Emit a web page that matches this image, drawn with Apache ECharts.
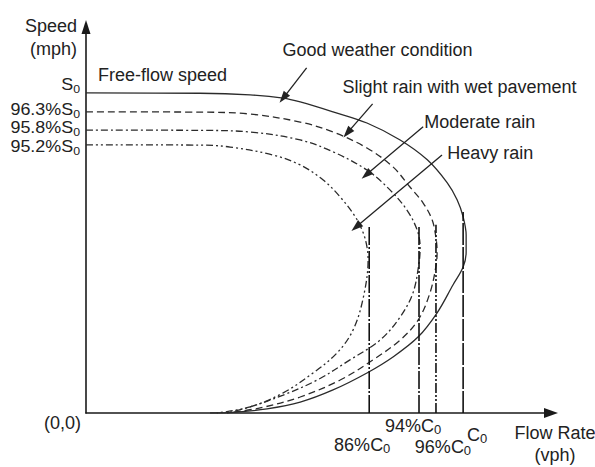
<!DOCTYPE html>
<html lang="en">
<head>
<meta charset="UTF-8">
<title>Speed-flow curves under rain</title>
<script src="https://cdn.jsdelivr.net/npm/echarts@6/dist/echarts.min.js"></script>
<style>html,body{margin:0;padding:0;background:#fff;}</style>
</head>
<body>
<div id="main" style="width:595px;height:467px;"></div>
<script>
// x: flow in % of C0, y: speed in % of S0 (as drawn in the sketch, not as labelled)
var goodWeather = [[0,100],[30.2,99.9],[43.5,99.4],[52.3,98.4],[56.8,97.2],[65.5,94.1],[74.5,90.6],[83.3,85.3],[90.5,79.1],[95.8,71.9],[98.4,66.6],[100,61.3],[100.8,55.6],[100.8,50.3],[100,45.6],[97.3,40.0],[93.1,31.3],[88.1,23.8],[81.4,17.5],[74.5,12.5],[65.5,7.2],[56.8,3.4],[48.0,1.3],[39.0,0.2],[32.9,0]];
var slightRain = [[0,94.1],[30.2,94.0],[43.5,93.4],[56.8,90.9],[65.5,87.8],[74.5,82.8],[81.4,76.9],[85.9,70.6],[89.4,65.6],[91.8,60.3],[92.8,54.7],[93.1,50.3],[92.8,45.9],[91.2,37.5],[88.1,29.1],[83.3,22.8],[76.1,16.6],[67.4,10.3],[56.8,5.0],[46.2,1.6],[37.4,0]];
var moderateRain = [[0,88.4],[30.2,88.3],[43.5,87.8],[56.8,85.3],[65.5,81.6],[74.5,75.9],[80.6,69.7],[85.1,63.4],[87.8,57.2],[88.6,51.9],[88.3,46.9],[86.7,37.5],[83.3,30.0],[78.0,22.8],[70.0,16.6],[61.3,10.3],[52.3,5.6],[43.5,1.9],[37.4,0]];
var heavyRain = [[0,83.8],[30.2,83.7],[38.2,83.1],[49.6,80.6],[56.8,77.5],[62.9,72.8],[67.4,67.5],[71.4,61.3],[73.5,56.3],[74.5,51.9],[74.8,47.8],[73.5,35.9],[70.8,25.9],[66.6,18.8],[60.2,12.5],[52.3,6.3],[43.5,1.9],[34.7,0]];

// capacity lines (x) and how high they reach (y)
var capValues = [75.1, 88.3, 92.8, 100];
var capTops = [58.1, 58.1, 58.8, 62.8];
var capLabels = ['86%C', '94%C', '96%C', 'C'];

var yTickValues = [100, 94.1, 88.4, 83.8];
var yTickLabels = ['S', '96.3%S', '95.8%S', '95.2%S'];

var noteTexts = ['Free-flow speed', 'Good weather condition', 'Slight rain with wet pavement', 'Moderate rain', 'Heavy rain'];
var notePos = [[3.2,105.6],[52.1,113.4],[68.0,101.9],[89.7,90.9],[95.8,81.3]];
// arrows: [from, to]
var arrows = [
    [[58.5,107.8],[52.3,98.4]],
    [[76.0,96.6],[69.3,87.5]],
    [[89.4,89.4],[74.3,74.4]],
    [[94.4,80.6],[71.6,58.1]]
];

var FONT = "'Liberation Sans', Arial, sans-serif";
var INK = '#222';

var chart = echarts.init(document.getElementById('main'), null, {renderer: 'svg'});

function curve(name, data, dash) {
    return {
        name: name,
        type: 'line',
        data: data,
        smooth: 0.35,
        showSymbol: false,
        silent: true,
        lineStyle: {color: '#2b2b2b', width: 1.3, type: dash}
    };
}

var series = [
    curve('Good weather', goodWeather, 'solid'),
    curve('Slight rain', slightRain, [7, 4]),
    curve('Moderate rain', moderateRain, [7, 3, 2, 3]),
    curve('Heavy rain', heavyRain, [7, 3, 2, 3, 2, 3])
];

series[0].markLine = {
    silent: true,
    symbol: ['none', 'triangle'],
    symbolSize: [8, 12],
    label: {show: false},
    lineStyle: {color: INK, width: 1.3, type: 'solid'},
    data: arrows.map(function (a) {
        return [{coord: a[0]}, {coord: a[1]}];
    })
};

var capDash = [[18, 2, 2, 2], [18, 2, 2, 2], [10, 2, 2, 2, 2, 2], [22, 2]];
capValues.forEach(function (c, i) {
    series.push({
        type: 'line',
        data: [[c, 0], [c, capTops[i]]],
        showSymbol: false,
        silent: true,
        lineStyle: {color: '#111', width: 1.6, type: capDash[i]}
    });
});

chart.setOption({
    animation: false,
    grid: {left: 86, right: 44, top: 27, bottom: 54, outerBoundsMode: 'none'},
    xAxis: {
        type: 'value',
        min: 0,
        max: 123.3,
        name: 'Flow Rate\n(vph)',
        nameLocation: 'end',
        nameGap: 4,
        nameTextStyle: {fontFamily: FONT, fontSize: 18, color: INK, align: 'center', verticalAlign: 'top', lineHeight: 22, padding: [9, 0, 0, 0]},
        axisLine: {show: true, symbol: ['none', 'triangle'], symbolSize: [10, 14], lineStyle: {color: '#1a1a1a', width: 1.6}},
        axisTick: {show: false},
        axisLabel: {show: false},
        splitLine: {show: false}
    },
    yAxis: {
        type: 'value',
        min: 0,
        max: 120.6,
        name: 'Speed\n(mph)',
        nameLocation: 'end',
        nameGap: 13,
        nameTextStyle: {fontFamily: FONT, fontSize: 18, color: INK, align: 'right', verticalAlign: 'top', lineHeight: 23, padding: [0, 9, 0, 0]},
        axisLine: {show: true, symbol: ['none', 'triangle'], symbolSize: [9, 14], lineStyle: {color: '#1a1a1a', width: 1.6}},
        axisTick: {show: false},
        axisLabel: {show: false},
        splitLine: {show: false}
    },
    series: series
});

// texts placed through the chart's own scales
function richSet(size) {
    return {
        m: {fontFamily: FONT, fontSize: size, fill: INK, lineHeight: size},
        s: {fontFamily: FONT, fontSize: Math.round(size * 0.7), fill: INK, lineHeight: 10, padding: [7, 0, 0, 0]}
    };
}
var graphics = [];
noteTexts.forEach(function (t, i) {
    var p = chart.convertToPixel({gridIndex: 0}, notePos[i]);
    graphics.push({
        type: 'text', x: p[0], y: p[1], silent: true,
        style: {text: t, font: '18px ' + FONT, fill: INK, align: 'left', verticalAlign: 'middle'}
    });
});
var yDy = [-8, -2, -2, 2];
yTickValues.forEach(function (v, i) {
    var p = chart.convertToPixel({gridIndex: 0}, [0, v]);
    graphics.push({
        type: 'text', x: p[0] - 6, y: p[1] + yDy[i], scaleX: 1.12, silent: true,
        style: {text: '{m|' + yTickLabels[i] + '}{s|0}', rich: richSet(16), align: 'right', verticalAlign: 'middle'}
    });
});
var capDx = [-7, -6, 7, 14];
var capDy = [32, 13, 34, 22];
capValues.forEach(function (c, i) {
    var p = chart.convertToPixel({gridIndex: 0}, [c, 0]);
    graphics.push({
        type: 'text', x: p[0] + capDx[i], y: p[1] + capDy[i], silent: true,
        style: {text: '{m|' + capLabels[i] + '}{s|0}', rich: richSet(18), align: 'center', verticalAlign: 'middle'}
    });
});
var o = chart.convertToPixel({gridIndex: 0}, [0, 0]);
graphics.push({
    type: 'text', x: o[0] - 5, y: o[1] + 10, silent: true,
    style: {text: '(0,0)', font: '18px ' + FONT, fill: INK, align: 'right', verticalAlign: 'middle'}
});
chart.setOption({graphic: graphics});
</script>
</body>
</html>
